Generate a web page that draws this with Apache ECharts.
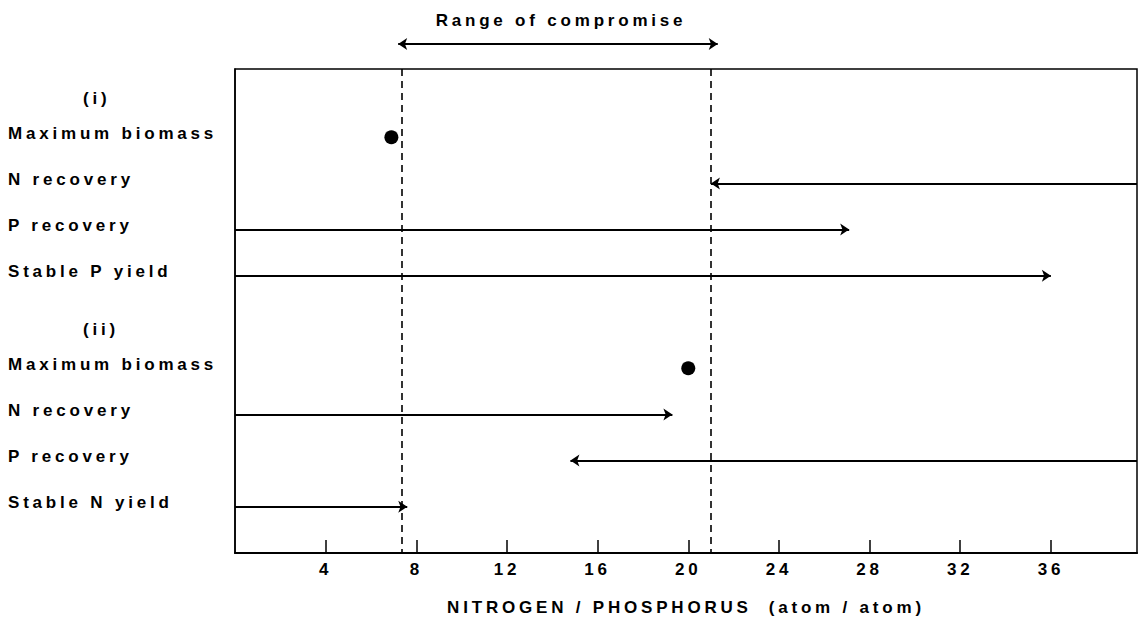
<!DOCTYPE html>
<html><head><meta charset="utf-8">
<script src="https://cdn.jsdelivr.net/npm/echarts@6/dist/echarts.min.js"></script>
<style>
html,body{margin:0;padding:0;background:#fff;}
#chart{width:1141px;height:629px;}
#chart text{letter-spacing:3.8px;}
</style></head><body><div id="chart"></div>
<script>
// Row labels (top to bottom)
const rowLabels = ['(i)', 'Maximum biomass', 'N recovery', 'P recovery', 'Stable P yield',
                   '(ii)', 'Maximum biomass', 'N recovery', 'P recovery', 'Stable N yield'];
const headerRows = [0, 5];
// X axis
const xMin = 0, xMax = 39.8;
const xTicks = [4, 8, 12, 16, 20, 24, 28, 32, 36];
// Maximum biomass points
const biomassRows = [1, 6];
const biomassValues = [6.9, 20];
// Range arrows (row, start N/P, end N/P where arrowhead is)
const arrowRows = [2, 3, 4, 7, 8, 9];
const arrowFrom = [39.8, 0, 0, 0, 39.8, 0];
const arrowTo   = [21, 27.1, 36, 19.3, 14.8, 7.6];
// Range of compromise
const compromiseBounds = [7.35, 21];
const compromiseArrow = [7.2, 21.3];
const compromiseLabel = 'Range of compromise';
const xName = 'NITROGEN / PHOSPHORUS  (atom / atom)';

const FONT = '"Liberation Sans", Arial, Helvetica, sans-serif';
const TXT = {fontSize: 17, fontWeight: 'bold', color: '#000', fontFamily: FONT};
const chart = echarts.init(document.getElementById('chart'), null, {renderer: 'svg'});

const option = {
  animation: false,
  backgroundColor: '#fff',
  textStyle: {fontFamily: FONT, color: '#000'},
  title: {text: compromiseLabel, left: 556, textAlign: 'center', top: 7,
          textStyle: Object.assign({}, TXT)},
  grid: [
    {left: 235, right: 4, top: 69, bottom: 76, show: true, borderColor: '#000', borderWidth: 1.5,
     containLabel: false, outerBoundsMode: 'none'},
    {left: 235, right: 4, top: 34, height: 20, show: false, containLabel: false, outerBoundsMode: 'none'}
  ],
  xAxis: [
    {gridIndex: 0, type: 'value', min: xMin, max: xMax, position: 'bottom',
     name: xName, nameLocation: 'middle', nameGap: 46,
     nameTextStyle: Object.assign({}, TXT),
     axisLine: {show: true, onZero: false, lineStyle: {color: '#000', width: 2}},
     axisTick: {show: true, inside: true, length: 13, customValues: xTicks, lineStyle: {color: '#000', width: 1.5}},
     axisLabel: Object.assign({show: true, customValues: xTicks, margin: 8}, TXT),
     splitLine: {show: false}},
    {gridIndex: 1, type: 'value', min: xMin, max: xMax, show: false}
  ],
  yAxis: [
    {gridIndex: 0, type: 'value', inverse: true, min: -0.476, max: 10,
     axisLine: {show: true, onZero: false, lineStyle: {color: '#000', width: 1.5}},
     axisTick: {show: false},
     splitLine: {show: false},
     axisLabel: Object.assign({
       show: true, customValues: rowLabels.map((_, i) => i),
       align: 'left', margin: 227,
       formatter: v => headerRows.includes(v) ? '{h|' + rowLabels[v] + '}' : '{n|' + rowLabels[v] + '}',
       rich: {
         h: Object.assign({padding: [16, 0, 0, 75]}, TXT),
         n: Object.assign({padding: [0, 0, 8, 0]}, TXT)
       }
     }, TXT)},
    {gridIndex: 1, type: 'value', min: 0, max: 1, show: false}
  ],
  series: [
    {
      type: 'scatter', xAxisIndex: 0, yAxisIndex: 0,
      data: biomassValues.map((v, i) => [v, biomassRows[i]]),
      symbol: 'circle', symbolSize: 14,
      itemStyle: {color: '#000', opacity: 1},
      markLine: {
        silent: true, symbol: ['none', 'none'], label: {show: false},
        lineStyle: {color: '#000', type: [7, 5], width: 1.6, opacity: 1},
        data: compromiseBounds.map(b => ({xAxis: b}))
      }
    },
    {
      type: 'lines', coordinateSystem: 'cartesian2d', xAxisIndex: 0, yAxisIndex: 0,
      symbol: ['none', 'arrow'], symbolSize: [0, 9],
      lineStyle: {color: '#000', width: 2, curveness: 0, opacity: 1},
      data: arrowRows.map((r, i) => ({coords: [[arrowFrom[i], r], [arrowTo[i], r]]}))
    },
    {
      type: 'lines', coordinateSystem: 'cartesian2d', xAxisIndex: 1, yAxisIndex: 1,
      symbol: ['arrow', 'arrow'], symbolSize: 9,
      lineStyle: {color: '#000', width: 2, curveness: 0, opacity: 1},
      data: [{coords: [[compromiseArrow[0], 0.5], [compromiseArrow[1], 0.5]]}]
    }
  ]
};
chart.setOption(option);
</script>
</body></html>
